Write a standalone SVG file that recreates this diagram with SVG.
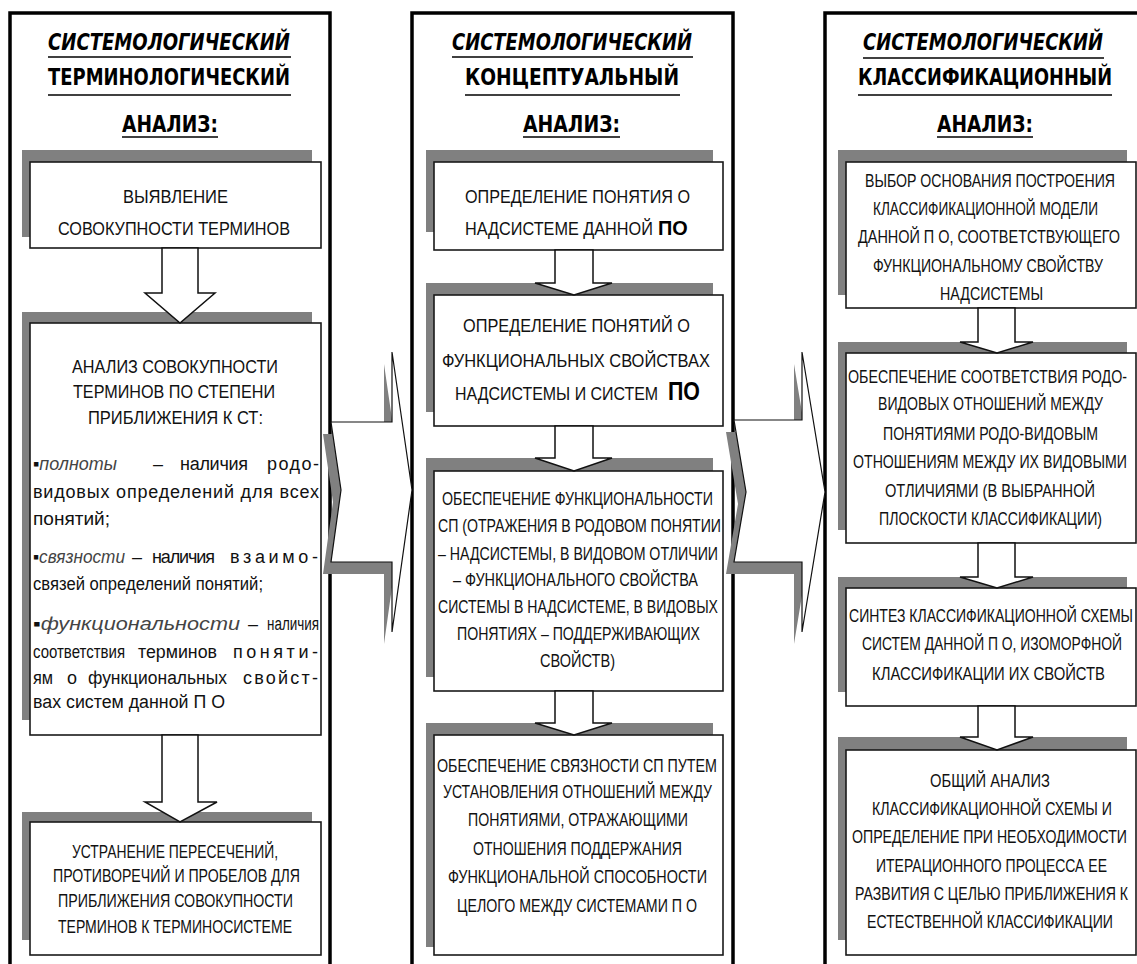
<svg xmlns="http://www.w3.org/2000/svg" width="1137" height="964" viewBox="0 0 1137 964">
<style>
.frame{fill:#fff;stroke:#000;stroke-width:3.5}
.shadow{fill:#808080}
.box{fill:#fff;stroke:#1a1a1a;stroke-width:1.6}
.t{font-family:"Liberation Sans",Arial,sans-serif;font-size:18px;fill:#111}
.c{text-anchor:middle}
.it{font-style:italic;fill:#444}
.h{font-family:"DejaVu Sans",sans-serif;font-weight:bold;font-size:23px;fill:#000;text-anchor:middle}
.hi{font-style:italic}
.ul{stroke:#000;stroke-width:1.6}
.po{font-weight:bold;fill:#000}
.darr{fill:#fff;stroke:#111;stroke-width:1.5;stroke-linejoin:miter}
.barr{fill:#fff;stroke:#111;stroke-width:1.2}
.bsh{fill:#808080}
</style>

<g id="col1">
<rect class="frame" x="10" y="13" width="320" height="980"/>
<text class="h hi" x="169" y="50" textLength="242" lengthAdjust="spacingAndGlyphs">СИСТЕМОЛОГИЧЕСКИЙ</text>
<line class="ul" x1="48" y1="57" x2="291" y2="57"/>
<text class="h" x="169" y="85" textLength="242" lengthAdjust="spacingAndGlyphs">ТЕРМИНОЛОГИЧЕСКИЙ</text>
<line class="ul" x1="48" y1="95" x2="291" y2="95"/>
<text class="h" x="170" y="132" textLength="96" lengthAdjust="spacingAndGlyphs">АНАЛИЗ:</text>
<line class="ul" x1="122" y1="137" x2="218" y2="137"/>
</g>

<g id="col2">
<rect class="frame" x="412" y="13" width="321" height="980"/>
<text class="h hi" x="572" y="50" textLength="240" lengthAdjust="spacingAndGlyphs">СИСТЕМОЛОГИЧЕСКИЙ</text>
<line class="ul" x1="452" y1="57" x2="693" y2="57"/>
<text class="h" x="572" y="85" textLength="214" lengthAdjust="spacingAndGlyphs">КОНЦЕПТУАЛЬНЫЙ</text>
<line class="ul" x1="465" y1="95" x2="680" y2="95"/>
<text class="h" x="571.5" y="132" textLength="97" lengthAdjust="spacingAndGlyphs">АНАЛИЗ:</text>
<line class="ul" x1="523" y1="137" x2="620" y2="137"/>
</g>

<g id="col3">
<rect class="frame" x="825" y="13" width="330" height="980"/>
<text class="h hi" transform="translate(983,50) scale(0.75,1)" textLength="320" lengthAdjust="spacingAndGlyphs">СИСТЕМОЛОГИЧЕСКИЙ</text>
<line class="ul" x1="863" y1="58" x2="1104" y2="58"/>
<text class="h" transform="translate(985,85) scale(0.75,1)" textLength="338.7" lengthAdjust="spacingAndGlyphs">КЛАССИФИКАЦИОННЫЙ</text>
<line class="ul" x1="858" y1="95" x2="1112" y2="95"/>
<text class="h" transform="translate(985,132) scale(0.75,1)" textLength="128" lengthAdjust="spacingAndGlyphs">АНАЛИЗ:</text>
<line class="ul" x1="937" y1="137" x2="1033" y2="137"/>
</g>

<!-- column 1 nodes -->
<g id="c1n1">
<rect class="shadow" x="22" y="150" width="290" height="87"/>
<rect class="box" x="30" y="162" width="291" height="86"/>
<text class="t c" x="175.5" y="203" textLength="105" lengthAdjust="spacingAndGlyphs">ВЫЯВЛЕНИЕ</text>
<text class="t c" x="174" y="235" textLength="232" lengthAdjust="spacingAndGlyphs">СОВОКУПНОСТИ ТЕРМИНОВ</text>
</g>

<g id="c1n2">
<rect class="shadow" x="22" y="312" width="290" height="408"/>
<rect class="box" x="30" y="323" width="291" height="412"/>
<text class="t c" x="175" y="373" textLength="206" lengthAdjust="spacingAndGlyphs">АНАЛИЗ СОВОКУПНОСТИ</text>
<text class="t c" x="174" y="398" textLength="202" lengthAdjust="spacingAndGlyphs">ТЕРМИНОВ ПО СТЕПЕНИ</text>
<text class="t c" x="175.5" y="424" textLength="175" lengthAdjust="spacingAndGlyphs">ПРИБЛИЖЕНИЯ К СТ:</text>
<text class="t" x="33" y="470" textLength="84" lengthAdjust="spacingAndGlyphs">▪<tspan class="it">полноты</tspan></text>
<text class="t" x="153" y="470">–</text>
<text class="t" x="180" y="470" textLength="68" lengthAdjust="spacing">наличия</text>
<text class="t" x="267" y="470" textLength="52" lengthAdjust="spacing">родо-</text>
<text class="t" x="33" y="498" textLength="286" lengthAdjust="spacing">видовых определений для всех</text>
<text class="t" x="33" y="525" textLength="77" lengthAdjust="spacingAndGlyphs">понятий;</text>
<text class="t" x="33" y="563" textLength="92" lengthAdjust="spacingAndGlyphs">▪<tspan class="it">связности</tspan></text>
<text class="t" x="132" y="563">–</text>
<text class="t" x="152" y="563" textLength="63" lengthAdjust="spacing">наличия</text>
<text class="t" x="230" y="563" textLength="88" lengthAdjust="spacing">взаимо-</text>
<text class="t" x="33" y="590" textLength="230" lengthAdjust="spacingAndGlyphs">связей определений понятий;</text>
<text class="t" x="33" y="630" textLength="207" lengthAdjust="spacingAndGlyphs">▪<tspan class="it">функциональности</tspan></text>
<text class="t" x="248" y="630">–</text>
<text class="t" x="267" y="630" textLength="52" lengthAdjust="spacingAndGlyphs">наличия</text>
<text class="t" x="33" y="658" textLength="92" lengthAdjust="spacingAndGlyphs">соответствия</text>
<text class="t" x="138" y="658" textLength="79" lengthAdjust="spacingAndGlyphs">терминов</text>
<text class="t" x="233" y="658" textLength="85" lengthAdjust="spacing">поняти-</text>
<text class="t" x="33" y="684" textLength="20" lengthAdjust="spacingAndGlyphs">ям</text>
<text class="t" x="67" y="684">о</text>
<text class="t" x="88" y="684" textLength="139" lengthAdjust="spacingAndGlyphs">функциональных</text>
<text class="t" x="243" y="684" textLength="75" lengthAdjust="spacing">свойст-</text>
<text class="t" x="33" y="708" textLength="192" lengthAdjust="spacingAndGlyphs">вах систем данной П О</text>
</g>

<g id="c1n3">
<rect class="shadow" x="22" y="812" width="290" height="128"/>
<rect class="box" x="30" y="822" width="291" height="133"/>
<text class="t c" x="175" y="858" textLength="206" lengthAdjust="spacingAndGlyphs">УСТРАНЕНИЕ ПЕРЕСЕЧЕНИЙ,</text>
<text class="t c" x="176.5" y="882" textLength="247" lengthAdjust="spacingAndGlyphs">ПРОТИВОРЕЧИЙ И ПРОБЕЛОВ ДЛЯ</text>
<text class="t c" x="175.5" y="907" textLength="235" lengthAdjust="spacingAndGlyphs">ПРИБЛИЖЕНИЯ СОВОКУПНОСТИ</text>
<text class="t c" x="175" y="933" textLength="234" lengthAdjust="spacingAndGlyphs">ТЕРМИНОВ К ТЕРМИНОСИСТЕМЕ</text>
</g>

<!-- column 2 nodes -->
<g id="c2n1">
<rect class="shadow" x="426" y="150" width="287" height="82"/>
<rect class="box" x="434" y="162" width="289" height="88"/>
<text class="t c" x="577.5" y="203" textLength="225" lengthAdjust="spacingAndGlyphs">ОПРЕДЕЛЕНИЕ ПОНЯТИЯ О</text>
<text class="t" transform="translate(465,235) scale(0.85,1)"><tspan textLength="221" lengthAdjust="spacingAndGlyphs">НАДСИСТЕМЕ  ДАННОЙ</tspan><tspan class="po" x="227" font-size="21" textLength="35" lengthAdjust="spacingAndGlyphs">ПО</tspan></text>
</g>

<g id="c2n2">
<rect class="shadow" x="426" y="283" width="287" height="129"/>
<rect class="box" x="434" y="295" width="289" height="131"/>
<text class="t c" x="576.5" y="332" textLength="227" lengthAdjust="spacingAndGlyphs">ОПРЕДЕЛЕНИЕ  ПОНЯТИЙ О</text>
<text class="t c" x="576" y="367" textLength="268" lengthAdjust="spacingAndGlyphs">ФУНКЦИОНАЛЬНЫХ СВОЙСТВАХ</text>
<text class="t" transform="translate(455,400) scale(0.85,1)"><tspan textLength="239" lengthAdjust="spacingAndGlyphs">НАДСИСТЕМЫ  И СИСТЕМ</tspan><tspan class="po" x="250.6" font-size="26" textLength="37.6" lengthAdjust="spacingAndGlyphs">ПО</tspan></text>
</g>

<g id="c2n3">
<rect class="shadow" x="426" y="458" width="287" height="219"/>
<rect class="box" x="434" y="471" width="289" height="220"/>
<text class="t c" x="577.5" y="505" textLength="271" lengthAdjust="spacingAndGlyphs">ОБЕСПЕЧЕНИЕ ФУНКЦИОНАЛЬНОСТИ</text>
<text class="t c" x="579.5" y="532" textLength="283" lengthAdjust="spacingAndGlyphs">СП (ОТРАЖЕНИЯ В РОДОВОМ ПОНЯТИИ</text>
<text class="t c" x="578" y="560" textLength="280" lengthAdjust="spacingAndGlyphs">– НАДСИСТЕМЫ, В ВИДОВОМ ОТЛИЧИИ</text>
<text class="t c" x="575.5" y="586" textLength="245" lengthAdjust="spacingAndGlyphs">– ФУНКЦИОНАЛЬНОГО СВОЙСТВА</text>
<text class="t c" x="578" y="613" textLength="280" lengthAdjust="spacingAndGlyphs">СИСТЕМЫ В НАДСИСТЕМЕ, В ВИДОВЫХ</text>
<text class="t c" x="578.5" y="640" textLength="243" lengthAdjust="spacingAndGlyphs">ПОНЯТИЯХ – ПОДДЕРЖИВАЮЩИХ</text>
<text class="t c" x="577.5" y="667" textLength="75" lengthAdjust="spacingAndGlyphs">СВОЙСТВ)</text>
</g>

<g id="c2n4">
<rect class="shadow" x="426" y="723" width="287" height="224"/>
<rect class="box" x="434" y="735" width="289" height="220"/>
<text class="t c" x="577" y="772" textLength="280" lengthAdjust="spacingAndGlyphs">ОБЕСПЕЧЕНИЕ СВЯЗНОСТИ СП  ПУТЕМ</text>
<text class="t c" x="577.5" y="798" textLength="269" lengthAdjust="spacingAndGlyphs">УСТАНОВЛЕНИЯ ОТНОШЕНИЙ МЕЖДУ</text>
<text class="t c" x="578" y="826" textLength="220" lengthAdjust="spacingAndGlyphs">ПОНЯТИЯМИ, ОТРАЖАЮЩИМИ</text>
<text class="t c" x="577.5" y="855" textLength="209" lengthAdjust="spacingAndGlyphs">ОТНОШЕНИЯ ПОДДЕРЖАНИЯ</text>
<text class="t c" x="577.5" y="883" textLength="259" lengthAdjust="spacingAndGlyphs">ФУНКЦИОНАЛЬНОЙ СПОСОБНОСТИ</text>
<text class="t c" x="577" y="912" textLength="240" lengthAdjust="spacingAndGlyphs">ЦЕЛОГО МЕЖДУ СИСТЕМАМИ  П О</text>
</g>

<!-- column 3 nodes -->
<g id="c3n1">
<rect class="shadow" x="838" y="150" width="289" height="145"/>
<rect class="box" x="846" y="162" width="290" height="146"/>
<text class="t c" transform="translate(990,187) scale(0.8,1)" textLength="312.5" lengthAdjust="spacingAndGlyphs">ВЫБОР ОСНОВАНИЯ ПОСТРОЕНИЯ</text>
<text class="t c" transform="translate(985.5,215) scale(0.8,1)" textLength="281.25" lengthAdjust="spacingAndGlyphs">КЛАССИФИКАЦИОННОЙ МОДЕЛИ</text>
<text class="t c" transform="translate(989,243) scale(0.8,1)" textLength="327.5" lengthAdjust="spacingAndGlyphs">ДАННОЙ П О, СООТВЕТСТВУЮЩЕГО</text>
<text class="t c" transform="translate(988,272) scale(0.8,1)" textLength="287.5" lengthAdjust="spacingAndGlyphs">ФУНКЦИОНАЛЬНОМУ СВОЙСТВУ</text>
<text class="t c" transform="translate(991.5,300) scale(0.8,1)" textLength="128.75" lengthAdjust="spacingAndGlyphs">НАДСИСТЕМЫ</text>
</g>

<g id="c3n2">
<rect class="shadow" x="838" y="342" width="289" height="188"/>
<rect class="box" x="846" y="353" width="290" height="190"/>
<text class="t c" transform="translate(987.5,383) scale(0.8,1)" textLength="348.75" lengthAdjust="spacingAndGlyphs">ОБЕСПЕЧЕНИЕ СООТВЕТСТВИЯ РОДО-</text>
<text class="t c" transform="translate(990.5,410) scale(0.8,1)" textLength="281.25" lengthAdjust="spacingAndGlyphs">ВИДОВЫХ ОТНОШЕНИЙ МЕЖДУ</text>
<text class="t c" transform="translate(990.5,440) scale(0.8,1)" textLength="268.75" lengthAdjust="spacingAndGlyphs">ПОНЯТИЯМИ РОДО-ВИДОВЫМ</text>
<text class="t c" transform="translate(990,468) scale(0.8,1)" textLength="342.5" lengthAdjust="spacingAndGlyphs">ОТНОШЕНИЯМ МЕЖДУ ИХ ВИДОВЫМИ</text>
<text class="t c" transform="translate(990,497) scale(0.8,1)" textLength="262.5" lengthAdjust="spacingAndGlyphs">ОТЛИЧИЯМИ (В ВЫБРАННОЙ</text>
<text class="t c" transform="translate(990.5,525) scale(0.8,1)" textLength="278.75" lengthAdjust="spacingAndGlyphs">ПЛОСКОСТИ КЛАССИФИКАЦИИ)</text>
</g>

<g id="c3n3">
<rect class="shadow" x="838" y="577" width="289" height="115"/>
<rect class="box" x="846" y="588" width="290" height="118"/>
<text class="t c" transform="translate(991,622) scale(0.72,1)" textLength="394.4" lengthAdjust="spacingAndGlyphs">СИНТЕЗ КЛАССИФИКАЦИОННОЙ СХЕМЫ</text>
<text class="t c" transform="translate(992,650) scale(0.8,1)" textLength="325" lengthAdjust="spacingAndGlyphs">СИСТЕМ ДАННОЙ П О,  ИЗОМОРФНОЙ</text>
<text class="t c" transform="translate(988.5,680) scale(0.8,1)" textLength="291.25" lengthAdjust="spacingAndGlyphs">КЛАССИФИКАЦИИ  ИХ СВОЙСТВ</text>
</g>

<g id="c3n4">
<rect class="shadow" x="838" y="737" width="289" height="203"/>
<rect class="box" x="846" y="750" width="290" height="205"/>
<text class="t c" transform="translate(990,787) scale(0.8,1)" textLength="150" lengthAdjust="spacingAndGlyphs">ОБЩИЙ АНАЛИЗ</text>
<text class="t c" transform="translate(992,815) scale(0.8,1)" textLength="300" lengthAdjust="spacingAndGlyphs">КЛАССИФИКАЦИОННОЙ СХЕМЫ И</text>
<text class="t c" transform="translate(989.5,843) scale(0.8,1)" textLength="343.75" lengthAdjust="spacingAndGlyphs">ОПРЕДЕЛЕНИЕ ПРИ НЕОБХОДИМОСТИ</text>
<text class="t c" transform="translate(991.5,872) scale(0.8,1)" textLength="288.75" lengthAdjust="spacingAndGlyphs">ИТЕРАЦИОННОГО ПРОЦЕССА ЕЕ</text>
<text class="t c" transform="translate(991.5,900) scale(0.8,1)" textLength="341.25" lengthAdjust="spacingAndGlyphs">РАЗВИТИЯ С ЦЕЛЬЮ ПРИБЛИЖЕНИЯ К</text>
<text class="t c" transform="translate(990,928) scale(0.8,1)" textLength="307.5" lengthAdjust="spacingAndGlyphs">ЕСТЕСТВЕННОЙ КЛАССИФИКАЦИИ</text>
</g>

<g id="connectors">
<polygon class="darr" points="162,248 198,248 198,293 215,293 180,323 145,293 162,293"/>
<polygon class="darr" points="162,735 198,735 198,802 217,802 180,822 145,802 162,802"/>
<polygon class="darr" points="555,250 593,250 593,283 612,283 574,295 535,283 555,283"/>
<polygon class="darr" points="555,426 593,426 593,458 612,458 574,471 535,458 555,458"/>
<polygon class="darr" points="555,691 593,691 593,723 612,723 574,735 535,723 555,723"/>
<polygon class="darr" points="978,308 1015,308 1015,342 1033,342 997,353 960,342 978,342"/>
<polygon class="darr" points="978,543 1015,543 1015,577 1033,577 997,588 960,577 978,577"/>
<polygon class="darr" points="978,706 1015,706 1015,737 1033,737 997,750 960,737 978,737"/>
<g id="bigarrow1">
<path class="bsh" transform="translate(-8,12)" d="M331,422 L392,422 L392,352 L412,490 L392,632 L392,562 L331,562 L341,490 Z"/>
<path class="barr" d="M331,422 L392,422 L392,352 L412,490 L392,632 L392,562 L331,562 L341,490 Z"/>
</g>
<g id="bigarrow2">
<path class="bsh" transform="translate(-8,12)" d="M734,420 L802,420 L802,352 L825,492 L802,632 L802,562 L734,562 L746,492 Z"/>
<path class="barr" d="M734,420 L802,420 L802,352 L825,492 L802,632 L802,562 L734,562 L746,492 Z"/>
</g>
</g>
</svg>
